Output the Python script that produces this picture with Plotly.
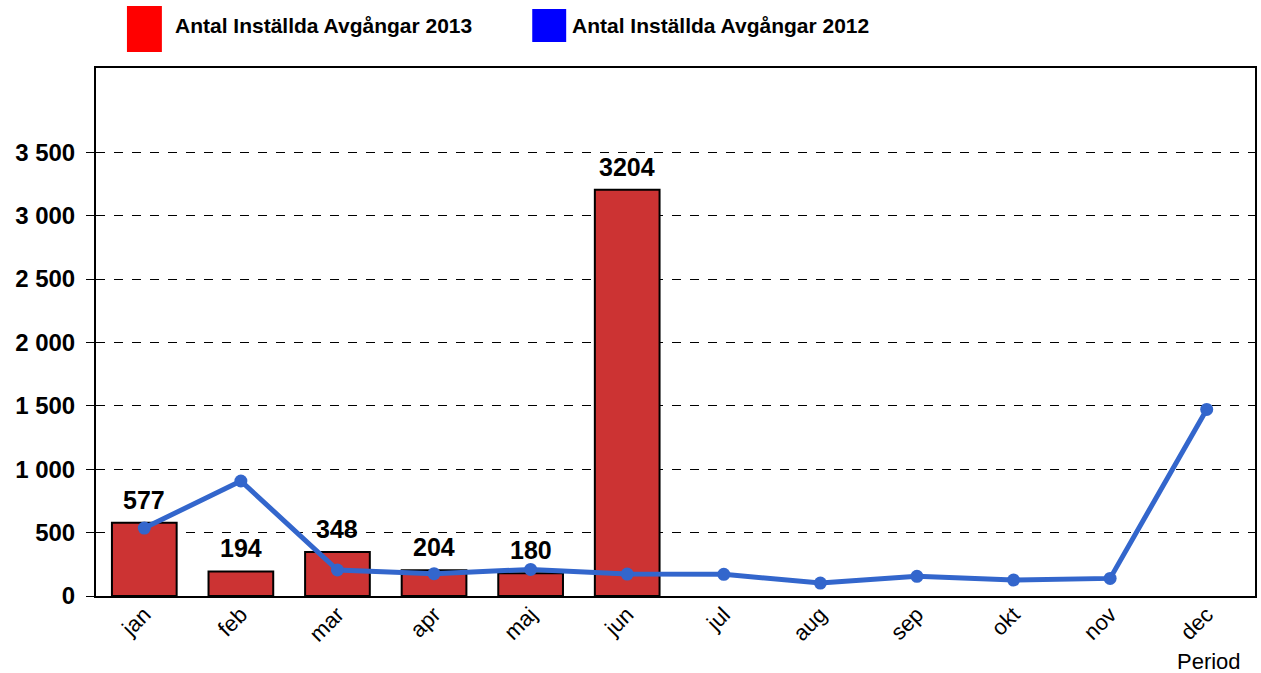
import plotly.graph_objects as go

months = ["jan", "feb", "mar", "apr", "maj", "jun", "jul", "aug", "sep", "okt", "nov", "dec"]
bars_2013 = [577, 194, 348, 204, 180, 3204]
line_2012 = [536, 907, 205, 176, 210, 173, 171, 102, 155, 126, 139, 1472]
y_ticks = [0, 500, 1000, 1500, 2000, 2500, 3000, 3500]
y_tick_labels = ["0", "500", "1 000", "1 500", "2 000", "2 500", "3 000", "3 500"]
legend_names = ["Antal Inställda Avgångar 2013", "Antal Inställda Avgångar 2012"]

FONT = "Liberation Sans, Arial, sans-serif"

L, R, T, B = 96, 4, 68, 77
W, H = 1261, 673
PW, PH = W - L - R, H - T - B


def px(x):
    return (x - L) / PW


def py(y):
    return (H - B - y) / PH


fig = go.Figure()
fig.add_trace(go.Bar(
    x=months[:len(bars_2013)], y=bars_2013,
    marker=dict(color="#CC3333", line=dict(color="black", width=2)),
    width=0.67,
    showlegend=False, name=legend_names[0],
))
fig.add_trace(go.Scatter(
    x=months, y=line_2012, mode="lines+markers",
    line=dict(color="#3366CC", width=5),
    marker=dict(color="#3366CC", size=13),
    showlegend=False, name=legend_names[1],
))

# Bar value labels
for m, v in zip(months, bars_2013):
    fig.add_annotation(x=m, y=v, text=str(v), showarrow=False,
                       xanchor="center", yanchor="bottom", yshift=7,
                       font=dict(family=FONT, size=25, color="black", weight="bold"))

# Legend drawn as shapes + annotations
fig.add_shape(type="rect", xref="paper", yref="paper",
              x0=px(127), x1=px(162), y0=py(52), y1=py(6),
              fillcolor="#FF0000", line=dict(width=0))
fig.add_shape(type="rect", xref="paper", yref="paper",
              x0=px(533), x1=px(567), y0=py(42), y1=py(9),
              fillcolor="#0000FF", line=dict(width=0))
fig.add_annotation(xref="paper", yref="paper", x=px(173), y=py(26),
                   text=legend_names[0], showarrow=False, xanchor="left", yanchor="middle",
                   font=dict(family=FONT, size=21, color="black", weight="bold"))
fig.add_annotation(xref="paper", yref="paper", x=px(571), y=py(26),
                   text=legend_names[1], showarrow=False, xanchor="left", yanchor="middle",
                   font=dict(family=FONT, size=21, color="black", weight="bold"))
fig.add_annotation(xref="paper", yref="paper", x=px(1245), y=py(661),
                   text="Period", showarrow=False, xanchor="right", yanchor="middle",
                   font=dict(family=FONT, size=22, color="black"))

fig.update_layout(
    width=W, height=H,
    margin=dict(l=L, r=R, t=T, b=B, pad=0),
    paper_bgcolor="white", plot_bgcolor="white",
    font=dict(family=FONT, color="black"),
    xaxis=dict(
        categoryorder="array", categoryarray=months,
        range=[-0.5, 11.5],
        tickangle=-45, tickfont=dict(family=FONT, size=22, color="black"),
        showline=True, linecolor="black", linewidth=2, mirror=True,
        ticks="", showgrid=False, ticklabelstandoff=-5,
    ),
    yaxis=dict(
        range=[0, 4165],
        tickvals=y_ticks, ticktext=y_tick_labels,
        tickfont=dict(family=FONT, size=24, color="black", weight="bold"),
        showline=True, linecolor="black", linewidth=2, mirror=True,
        ticks="outside", ticklen=8, tickcolor="black", tickwidth=1,
        showgrid=True, gridcolor="black", gridwidth=1, griddash="dash",
        zeroline=False, ticklabelstandoff=6,
    ),
)

fig.write_html(
    "out.html",
    config={"displayModeBar": False},
    post_script="document.body.style.margin='0';document.body.style.overflow='hidden';",
)
